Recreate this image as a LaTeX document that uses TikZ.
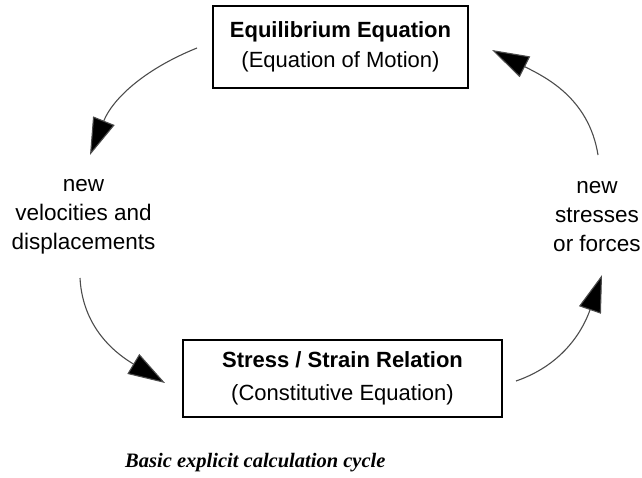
\documentclass[tikz,border=0pt]{standalone}
\usepackage{fontspec}
\setmainfont{Liberation Sans}
\newfontfamily\capfont{Liberation Serif}
\usetikzlibrary{arrows.meta}
\begin{document}
\begin{tikzpicture}[x=1pt,y=-1pt,
  eqbox/.style={draw,line width=2.2pt,minimum width=255pt,minimum height=82pt,
    align=center,font=\fontsize{22}{31}\selectfont,inner sep=0pt},
  label/.style={align=center,font=\fontsize{22.5}{29}\selectfont,inner sep=0pt},
  flow/.style={draw=black!70,line width=1.1pt,
    -{Triangle[length=37pt,width=23pt,fill=black]}}]
  \useasboundingbox (0,0) rectangle (642,477);
  % boxes
  \node[eqbox] (eq) at (340.5,47)
    {\textbf{Equilibrium Equation}\\[-1pt](Equation of Motion)};
  \node[eqbox,minimum width=319pt,minimum height=77pt] (ss) at (342.5,378.5)
    {\textbf{Stress / Strain Relation}\\[2pt](Constitutive Equation)};
  % side labels
  \node[label] (vel) at (83.5,217) {new\\velocities and\\displacements};
  \node[label] (str) at (597,217) {new\\stresses\\or forces};
  % arrow end points
  \coordinate (a1) at (197,48);  \coordinate (b1) at (90,155);
  \coordinate (a2) at (80,278);  \coordinate (b2) at (165,383);
  \coordinate (a3) at (516,381); \coordinate (b3) at (602,275);
  \coordinate (a4) at (598,155); \coordinate (b4) at (492,50);
  % cycle arrows
  \draw[flow] (a1) to[out=202,in=68] (b1);
  \draw[flow] (a2) to[out=-87,in=149] (b2);
  \draw[flow] (a3) to[out=19,in=251] (b3);
  \draw[flow] (a4) to[out=99,in=-27] (b4);
  % caption
  \node[anchor=base west,inner sep=0pt,font=\capfont\bfseries\itshape\fontsize{20.5}{24}\selectfont]
    (cap) at (125,467) {Basic explicit calculation cycle};
\end{tikzpicture}
\end{document}
